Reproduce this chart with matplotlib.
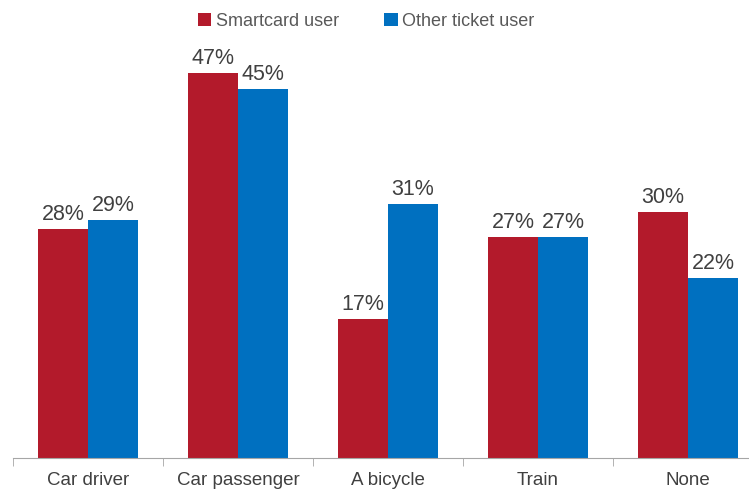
import matplotlib.pyplot as plt
import numpy as np

plt.rcParams['font.family'] = ['Liberation Sans', 'DejaVu Sans']

categories = ['Car driver', 'Car passenger', 'A bicycle', 'Train', 'None']
smartcard = [28, 47, 17, 27, 30]
other_ticket = [29, 45, 31, 27, 22]
series_names = ['Smartcard user', 'Other ticket user']

red = '#B31A2B'
blue = '#0070C0'

fig = plt.figure(figsize=(7.49, 4.91), dpi=100)
ax = fig.add_axes([13 / 749, 33 / 491, 750 / 749, 409.5 / 491])

x = np.arange(len(categories))
w = 1 / 3
b1 = ax.bar(x - w / 2, smartcard, w, color=red, label=series_names[0])
b2 = ax.bar(x + w / 2, other_ticket, w, color=blue, label=series_names[1])

for bars, vals in [(b1, smartcard), (b2, other_ticket)]:
    for rect, v in zip(bars, vals):
        ax.annotate(f'{v}%', (rect.get_x() + rect.get_width() / 2, rect.get_height()),
                    xytext=(0, 3), textcoords='offset points', ha='center', va='bottom',
                    fontsize=15.5, color='#404040')

ax.set_xlim(-0.5, len(categories) - 0.5)
ax.set_ylim(0, 50)
ax.set_yticks([])
for s in ['top', 'right', 'left']:
    ax.spines[s].set_visible(False)
ax.spines['bottom'].set_color('#A6A6A6')
ax.set_xticks(x)
ax.set_xticklabels(categories, fontsize=13.5, color='#404040')
ax.tick_params(axis='x', length=0, pad=10)
ax.set_xticks(np.arange(len(categories) + 1) - 0.5, minor=True)
ax.tick_params(axis='x', which='minor', length=6, color='#A6A6A6')

fig.legend(loc='center', bbox_to_anchor=(366 / 749, 1 - 21 / 491), ncol=2, frameon=False,
           fontsize=13, handlelength=0.75, handleheight=0.75, handletextpad=0.25,
           columnspacing=2.5, labelcolor='#595959')

plt.savefig('out.png', format='png')
